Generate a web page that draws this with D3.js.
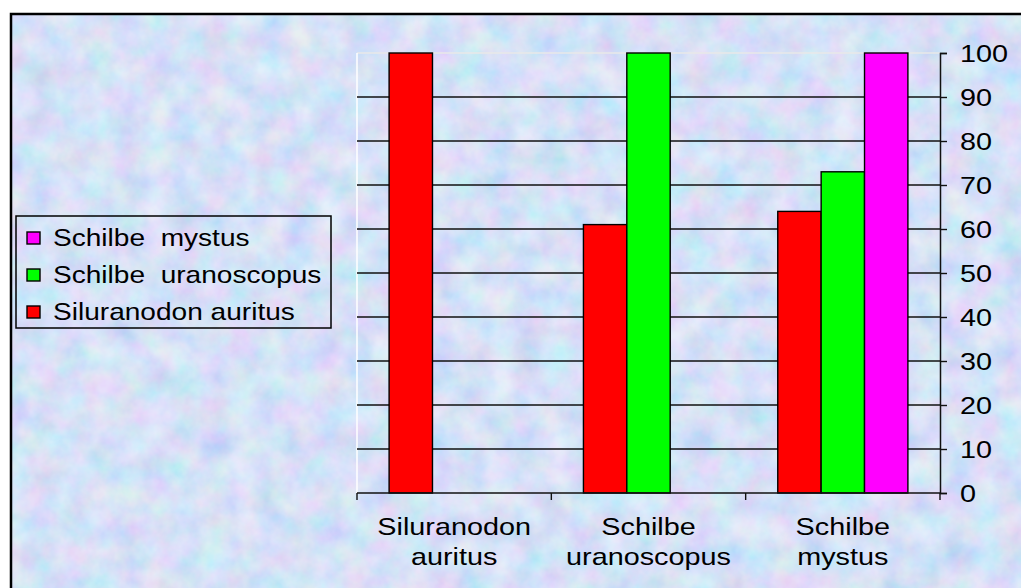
<!DOCTYPE html>
<html>
<head>
<meta charset="utf-8">
<script src="https://cdn.jsdelivr.net/npm/d3@7"></script>
<style>
  body { margin: 0; background: #fff; }
  text { font-family: "Liberation Sans", Arial, sans-serif; fill: #000; white-space: pre; }
</style>
</head>
<body>
<svg id="chart" width="1021" height="588"></svg>
<script>
// data
var categories = ["Siluranodon auritus", "Schilbe uranoscopus", "Schilbe mystus"];
var categoryLines = [["Siluranodon", "auritus"], ["Schilbe", "uranoscopus"], ["Schilbe", "mystus"]];
var seriesNames = ["Siluranodon auritus", "Schilbe  uranoscopus", "Schilbe  mystus"];
var seriesColors = ["#ff0000", "#00ff00", "#ff00ff"];
var siluranodonValues = [100, 61, 64];
var uranoscopusValues = [null, 100, 73];
var mystusValues = [null, null, 100];
var yTicks = [0, 10, 20, 30, 40, 50, 60, 70, 80, 90, 100];

var seriesValues = [siluranodonValues, uranoscopusValues, mystusValues];

var svg = d3.select("#chart");
var stretch = 1.2; // text in the picture is widened
var fontSize = 24;

// textured background
var defs = svg.append("defs");
var filt = defs.append("filter").attr("id", "paper")
    .attr("x", 0).attr("y", 0).attr("width", "100%").attr("height", "100%");
filt.append("feTurbulence")
    .attr("type", "fractalNoise")
    .attr("baseFrequency", "0.035")
    .attr("numOctaves", 4)
    .attr("seed", 7);
filt.append("feColorMatrix")
    .attr("type", "matrix")
    .attr("values", "0.9 0 0 0 0.31  0 0.6 0 0 0.5  0 0 0.35 0 0.77  0 0 0 0 0.6");

svg.append("rect")
    .attr("x", 11).attr("y", 14)
    .attr("width", 1030).attr("height", 600)
    .attr("fill", "#c4d8f4");
svg.append("rect")
    .attr("x", 11).attr("y", 14)
    .attr("width", 1030).attr("height", 600)
    .attr("filter", "url(#paper)");
svg.append("rect")
    .attr("x", 11).attr("y", 14)
    .attr("width", 1030).attr("height", 600)
    .attr("fill", "none")
    .attr("stroke", "#000")
    .attr("stroke-width", 2.5);

// scales
var plot = { left: 357, right: 940, top: 53, bottom: 493 };

var x0 = d3.scaleBand()
    .domain(categories)
    .range([plot.left, plot.right]);

var x1 = d3.scaleBand()
    .domain(d3.range(seriesNames.length))
    .range([0, x0.bandwidth()])
    .paddingOuter(0.74);

var y = d3.scaleLinear()
    .domain([0, 100])
    .range([plot.bottom, plot.top]);

// plot area border (light) on left and top
svg.append("line")
    .attr("x1", plot.left).attr("x2", plot.right)
    .attr("y1", plot.top).attr("y2", plot.top)
    .attr("stroke", "#e8e8e8").attr("stroke-width", 1.5);
svg.append("line")
    .attr("x1", plot.left).attr("x2", plot.left)
    .attr("y1", plot.top).attr("y2", plot.bottom)
    .attr("stroke", "#ffffff").attr("stroke-width", 1.5);

// gridlines
svg.append("g")
    .selectAll("line")
    .data(yTicks.filter(function(d) { return d > 0 && d < 100; }))
    .enter().append("line")
    .attr("x1", plot.left).attr("x2", plot.right)
    .attr("y1", function(d) { return y(d); })
    .attr("y2", function(d) { return y(d); })
    .attr("stroke", "#111").attr("stroke-width", 1.4);

// bars
var bars = [];
seriesValues.forEach(function(vals, s) {
    vals.forEach(function(v, c) {
        if (v != null) bars.push({ s: s, c: c, v: v });
    });
});

svg.append("g")
    .selectAll("rect")
    .data(bars)
    .enter().append("rect")
    .attr("x", function(d) { return x0(categories[d.c]) + x1(d.s); })
    .attr("y", function(d) { return y(d.v); })
    .attr("width", x1.bandwidth())
    .attr("height", function(d) { return y(0) - y(d.v); })
    .attr("fill", function(d) { return seriesColors[d.s]; })
    .attr("stroke", "#000")
    .attr("stroke-width", 1.4);

// right axis
var yAxis = svg.append("g")
    .attr("transform", "translate(" + plot.right + ",0)")
    .call(d3.axisRight(y).tickValues(yTicks).tickSize(7).tickPadding(13));
yAxis.select(".domain").attr("stroke", "#111").attr("stroke-width", 1.5);
yAxis.selectAll(".tick line").attr("stroke", "#111").attr("stroke-width", 1.4);
yAxis.selectAll(".tick text")
    .attr("font-size", fontSize)
    .attr("font-family", "'Liberation Sans', Arial, sans-serif")
    .attr("fill", "#000")
    .attr("x", null).attr("dy", null)
    .attr("dominant-baseline", "central")
    .attr("transform", "translate(" + 20 + ",0) scale(" + stretch + ",1)");

// bottom axis with ticks between categories
var xEdges = categories.map(function(c) { return x0(c); }).concat([plot.right]);
svg.append("line")
    .attr("x1", plot.left).attr("x2", plot.right)
    .attr("y1", plot.bottom).attr("y2", plot.bottom)
    .attr("stroke", "#111").attr("stroke-width", 1.5);
svg.append("g")
    .selectAll("line")
    .data(xEdges)
    .enter().append("line")
    .attr("x1", function(d) { return d; }).attr("x2", function(d) { return d; })
    .attr("y1", plot.bottom).attr("y2", plot.bottom + 7)
    .attr("stroke", "#111").attr("stroke-width", 1.4);

// category labels
var catLabel = svg.append("g")
    .selectAll("text")
    .data(categories)
    .enter().append("text")
    .attr("text-anchor", "middle")
    .attr("font-size", fontSize)
    .attr("transform", function(d) {
        return "translate(" + (x0(d) + x0.bandwidth() / 2) + ",535) scale(" + stretch + ",1)";
    });
catLabel.selectAll("tspan")
    .data(function(d, i) { return categoryLines[i]; })
    .enter().append("tspan")
    .attr("x", 0)
    .attr("y", function(d, i) { return i * 30; })
    .text(function(d) { return d; });

// legend (reverse order)
svg.append("rect")
    .attr("x", 16).attr("y", 216)
    .attr("width", 315).attr("height", 112)
    .attr("fill", "none")
    .attr("stroke", "#000").attr("stroke-width", 1.5);

var legendOrder = [2, 1, 0];
var legend = svg.append("g")
    .selectAll("g")
    .data(legendOrder)
    .enter().append("g")
    .attr("transform", function(d, i) { return "translate(0," + (238 + i * 37) + ")"; });
legend.append("rect")
    .attr("x", 27).attr("y", -6)
    .attr("width", 13).attr("height", 12)
    .attr("fill", function(d) { return seriesColors[d]; })
    .attr("stroke", "#000").attr("stroke-width", 1.4);
legend.append("text")
    .attr("font-size", fontSize)
    .attr("dominant-baseline", "central")
    .attr("transform", "translate(53,0) scale(" + (stretch - 0.03) + ",1)")
    .text(function(d) { return seriesNames[d]; });
</script>
</body>
</html>
